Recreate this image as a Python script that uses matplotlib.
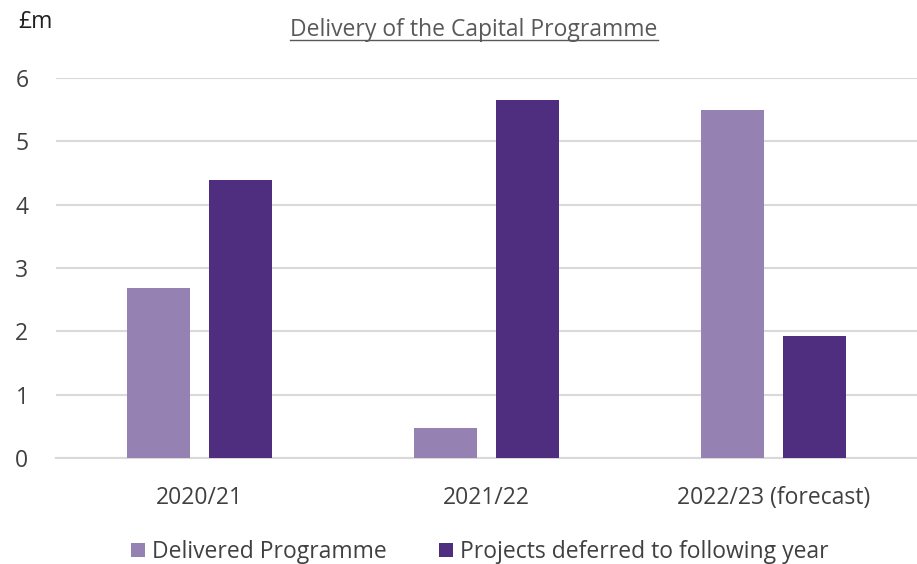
import matplotlib
matplotlib.use("Agg")
import matplotlib.pyplot as plt
import numpy as np
from matplotlib.patches import Patch
from matplotlib.lines import Line2D

categories = ["2020/21", "2021/22", "2022/23 (forecast)"]
delivered = [2.68, 0.47, 5.49]
deferred = [4.39, 5.65, 1.93]
series_names = ["Delivered Programme", "Projects deferred to following year"]
yticks = [0, 1, 2, 3, 4, 5, 6]

c_light = "#9581B2"
c_dark = "#4F2D7F"
txt = "#404040"
grid = "#D9D9D9"

plt.rcParams['font.family'] = ['Open Sans', 'DejaVu Sans']
FS = 16.5

fig = plt.figure(figsize=(9.17, 5.64), dpi=100)
ax = fig.add_axes([0.0613, 0.188, 0.9387, 0.674])

x = np.arange(len(categories))
w = 0.22
off = 0.143
ax.bar(x - off, delivered, width=w, color=c_light, zorder=3)
ax.bar(x + off, deferred, width=w, color=c_dark, zorder=3)

ax.set_xlim(-0.5, 2.5)
ax.set_ylim(0, 6)
ax.set_yticks(yticks)
ax.set_yticklabels([str(t) for t in yticks], fontsize=FS, color=txt)
ax.set_xticks(x)
ax.set_xticklabels(categories, fontsize=FS, color=txt)
ax.tick_params(axis='both', length=0)
ax.tick_params(axis='y', pad=20)
ax.tick_params(axis='x', pad=20)
ax.yaxis.grid(True, color=grid, linewidth=1.5, zorder=0)
for s in ["top", "right", "left"]:
    ax.spines[s].set_visible(False)
ax.spines["bottom"].set_color(grid)
ax.spines["bottom"].set_linewidth(1.5)
ax.set_axisbelow(True)

fig.text(18/917, 1 - 22/564, "£m", fontsize=FS, color="#202020", ha="left", va="center")

t = fig.text(474/917, 1 - 30/564, "Delivery of the Capital Programme", fontsize=FS,
             color="#595959", ha="center", va="center")
fig.canvas.draw()
bb = t.get_window_extent()
inv = fig.transFigure.inverted()
(x0, y0), (x1, y1) = inv.transform([(bb.x0, bb.y0), (bb.x1, bb.y0)])
fig.add_artist(Line2D([x0, x1], [y0 + 0.004, y0 + 0.004], transform=fig.transFigure,
                      color="#595959", linewidth=1.0))

handles = [Patch(facecolor=c_light, edgecolor='none'), Patch(facecolor=c_dark, edgecolor='none')]
fig.legend(handles, series_names, loc="center", bbox_to_anchor=(480/917, 1 - 552/564),
           ncol=2, frameon=False, fontsize=FS, handlelength=0.6, handleheight=0.6,
           handletextpad=0.3, columnspacing=2.3, labelcolor=txt)

fig.savefig("out.png", dpi=100)
